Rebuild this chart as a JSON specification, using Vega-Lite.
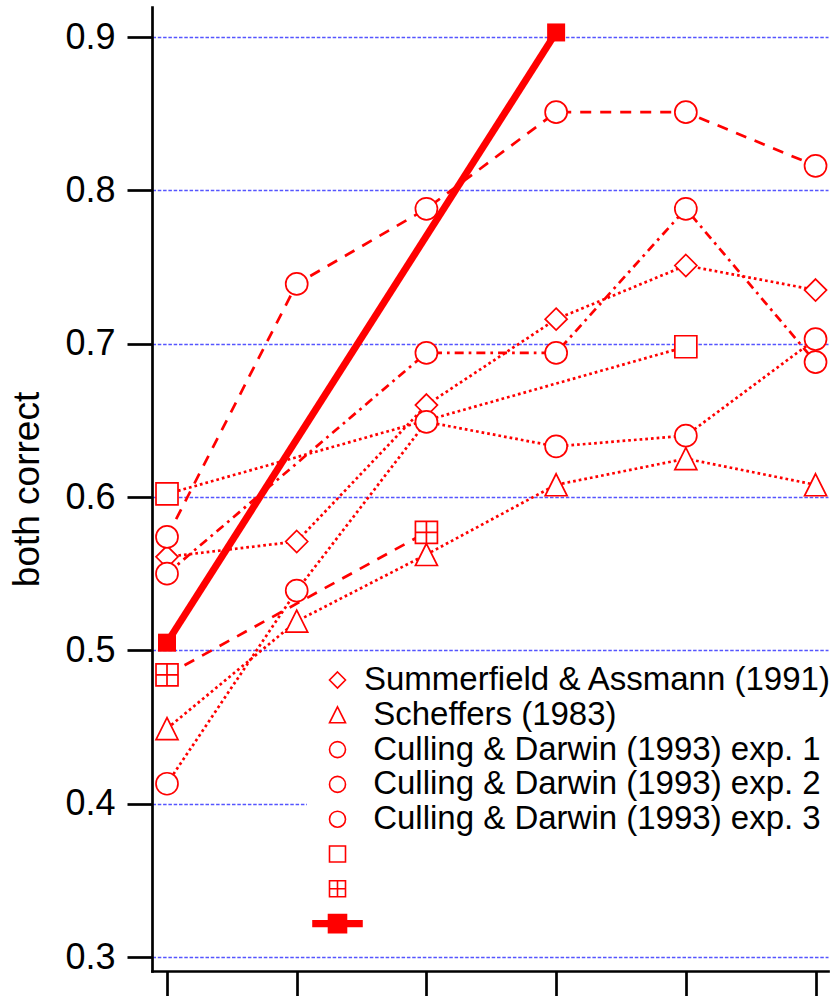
{
  "$schema": "https://vega.github.io/schema/vega-lite/v6.json",
  "width": 676,
  "height": 964,
  "autosize": {"type": "none"},
  "padding": {"left": 152, "top": 7, "right": 5, "bottom": 25},
  "background": "white",
  "data": {
    "values": [
      {"s": "SA", "x": 0, "v": 0.561},
      {"s": "SA", "x": 1, "v": 0.571},
      {"s": "SA", "x": 2, "v": 0.660},
      {"s": "SA", "x": 3, "v": 0.716},
      {"s": "SA", "x": 4, "v": 0.751},
      {"s": "SA", "x": 5, "v": 0.735},
      {"s": "SC", "x": 0, "v": 0.449},
      {"s": "SC", "x": 1, "v": 0.519},
      {"s": "SC", "x": 2, "v": 0.5625},
      {"s": "SC", "x": 3, "v": 0.608},
      {"s": "SC", "x": 4, "v": 0.625},
      {"s": "SC", "x": 5, "v": 0.608},
      {"s": "C1", "x": 0, "v": 0.574},
      {"s": "C1", "x": 1, "v": 0.739},
      {"s": "C1", "x": 2, "v": 0.788},
      {"s": "C1", "x": 3, "v": 0.851},
      {"s": "C1", "x": 4, "v": 0.851},
      {"s": "C1", "x": 5, "v": 0.816},
      {"s": "C2", "x": 0, "v": 0.550},
      {"s": "C2", "x": 2, "v": 0.694},
      {"s": "C2", "x": 3, "v": 0.694},
      {"s": "C2", "x": 4, "v": 0.788},
      {"s": "C2", "x": 5, "v": 0.688},
      {"s": "C3", "x": 0, "v": 0.413},
      {"s": "C3", "x": 1, "v": 0.539},
      {"s": "C3", "x": 2, "v": 0.649},
      {"s": "C3", "x": 3, "v": 0.633},
      {"s": "C3", "x": 4, "v": 0.640},
      {"s": "C3", "x": 5, "v": 0.703},
      {"s": "SQ", "x": 0, "v": 0.602},
      {"s": "SQ", "x": 4, "v": 0.698},
      {"s": "CH", "x": 0, "v": 0.484},
      {"s": "CH", "x": 2, "v": 0.577},
      {"s": "F", "x": 0, "v": 0.505},
      {"s": "F", "x": 3, "v": 0.903}
    ]
  },
  "encoding": {
    "x": {
      "field": "x",
      "type": "quantitative",
      "scale": {"domain": [-0.1157, 5.096], "nice": false, "zero": false},
      "axis": {
        "values": [0, 1, 2, 3, 4, 5],
        "labels": false,
        "title": null,
        "grid": false,
        "tickSize": 25,
        "tickWidth": 2.7,
        "tickColor": "black",
        "domainWidth": 2.7,
        "domainColor": "black",
        "domainCap": "square"
      }
    },
    "y": {
      "field": "v",
      "type": "quantitative",
      "scale": {"domain": [0.29087, 0.9196], "nice": false, "zero": false},
      "axis": {
        "values": [0.3, 0.4, 0.5, 0.6, 0.7, 0.8, 0.9],
        "format": ".1f",
        "title": "both correct",
        "titleFont": "Liberation Sans",
        "titleFontSize": 37,
        "titleFontWeight": "normal",
        "titleColor": "black",
        "titlePadding": 18,
        "labelFont": "Liberation Sans",
        "labelFontSize": 36,
        "labelColor": "black",
        "labelPadding": 12,
        "tickSize": 25,
        "tickWidth": 2.7,
        "tickColor": "black",
        "domainWidth": 2.7,
        "domainColor": "black",
        "domainCap": "square",
        "grid": true,
        "gridColor": "#5555ff",
        "gridWidth": 1.7,
        "gridDash": [3.5, 1.8],
        "gridOpacity": 1
      }
    }
  },
  "layer": [
    {
      "transform": [{"filter": "datum.s != 'F'"}],
      "mark": {"type": "line", "color": "red", "strokeWidth": 2.7, "strokeCap": "butt"},
      "encoding": {
        "strokeDash": {
          "field": "s",
          "type": "nominal",
          "scale": {
            "domain": ["SA", "SC", "C1", "C2", "C3", "SQ", "CH"],
            "range": [[2.7, 3], [2.7, 3], [11, 9], [9, 5, 2.7, 5], [2.7, 3], [2.7, 3], [11, 9]]
          },
          "legend": null
        }
      }
    },
    {
      "transform": [{"filter": "datum.s == 'F'"}],
      "mark": {"type": "line", "color": "red", "strokeWidth": 7, "strokeCap": "butt"},
      "encoding": {}
    },
    {
      "transform": [{"filter": "datum.s != 'F'"}],
      "mark": {"type": "point", "filled": true, "strokeWidth": 1.7, "size": 484, "opacity": 1},
      "encoding": {
        "shape": {
          "field": "s",
          "type": "nominal",
          "scale": {
            "domain": ["SA", "SC", "C1", "C2", "C3", "SQ", "CH", "F"],
            "range": [
              "M0,-1L1,0L0,1L-1,0Z",
              "M0,-1L1,1L-1,1Z",
              "circle",
              "circle",
              "circle",
              "square",
              "M-1,-1H1V1H-1Z M0,-1V1 M-1,0H1",
              "M-3.06,-0.36H-1.125V-1.125H1.125V-0.36H3.06V0.36H1.125V1.125H-1.125V0.36H-3.06Z"
            ]
          },
          "legend": {
            "title": null,
            "orient": "none",
            "legendX": 155,
            "legendY": 646.5,
            "fillColor": "white",
            "padding": 10,
            "symbolOffset": 4,
            "labelOffset": 10,
            "rowPadding": 0.8,
            "symbolSize": 256,
            "symbolStrokeWidth": 1.6,
            "symbolOpacity": 1,
            "labelFont": "Liberation Sans",
            "labelFontSize": 33,
            "labelColor": "black",
            "labelLimit": 1000,
            "labelExpr": "datum.value == 'SA' ? 'Summerfield & Assmann (1991)' : datum.value == 'SC' ? '\u200b\u00a0Scheffers (1983)' : datum.value == 'C1' ? '\u200b\u00a0Culling & Darwin (1993) exp. 1' : datum.value == 'C2' ? '\u200b\u00a0Culling & Darwin (1993) exp. 2' : datum.value == 'C3' ? '\u200b\u00a0Culling & Darwin (1993) exp. 3' : '\u00a0'"
          }
        },
        "fill": {
          "field": "s",
          "type": "nominal",
          "scale": {
            "domain": ["SA", "SC", "C1", "C2", "C3", "SQ", "CH", "F"],
            "range": ["white", "white", "white", "white", "white", "white", "white", "red"]
          },
          "legend": {
            "title": null,
            "orient": "none",
            "legendX": 155,
            "legendY": 646.5,
            "fillColor": "white",
            "padding": 10,
            "symbolOffset": 4,
            "labelOffset": 10,
            "rowPadding": 0.8,
            "symbolSize": 256,
            "symbolStrokeWidth": 1.6,
            "symbolOpacity": 1,
            "labelFont": "Liberation Sans",
            "labelFontSize": 33,
            "labelColor": "black",
            "labelLimit": 1000,
            "labelExpr": "datum.value == 'SA' ? 'Summerfield & Assmann (1991)' : datum.value == 'SC' ? '\u200b\u00a0Scheffers (1983)' : datum.value == 'C1' ? '\u200b\u00a0Culling & Darwin (1993) exp. 1' : datum.value == 'C2' ? '\u200b\u00a0Culling & Darwin (1993) exp. 2' : datum.value == 'C3' ? '\u200b\u00a0Culling & Darwin (1993) exp. 3' : '\u00a0'"
          }
        },
        "stroke": {
          "field": "s",
          "type": "nominal",
          "scale": {
            "domain": ["SA", "SC", "C1", "C2", "C3", "SQ", "CH", "F"],
            "range": ["red", "red", "red", "red", "red", "red", "red", "red"]
          },
          "legend": {
            "title": null,
            "orient": "none",
            "legendX": 155,
            "legendY": 646.5,
            "fillColor": "white",
            "padding": 10,
            "symbolOffset": 4,
            "labelOffset": 10,
            "rowPadding": 0.8,
            "symbolSize": 256,
            "symbolStrokeWidth": 1.6,
            "symbolOpacity": 1,
            "labelFont": "Liberation Sans",
            "labelFontSize": 33,
            "labelColor": "black",
            "labelLimit": 1000,
            "labelExpr": "datum.value == 'SA' ? 'Summerfield & Assmann (1991)' : datum.value == 'SC' ? '\u200b\u00a0Scheffers (1983)' : datum.value == 'C1' ? '\u200b\u00a0Culling & Darwin (1993) exp. 1' : datum.value == 'C2' ? '\u200b\u00a0Culling & Darwin (1993) exp. 2' : datum.value == 'C3' ? '\u200b\u00a0Culling & Darwin (1993) exp. 3' : '\u00a0'"
          }
        }
      }
    },
    {
      "transform": [{"filter": "datum.s == 'F'"}],
      "mark": {"type": "square", "color": "red", "size": 324, "opacity": 1},
      "encoding": {}
    }
  ],
  "config": {"view": {"stroke": null}}
}
